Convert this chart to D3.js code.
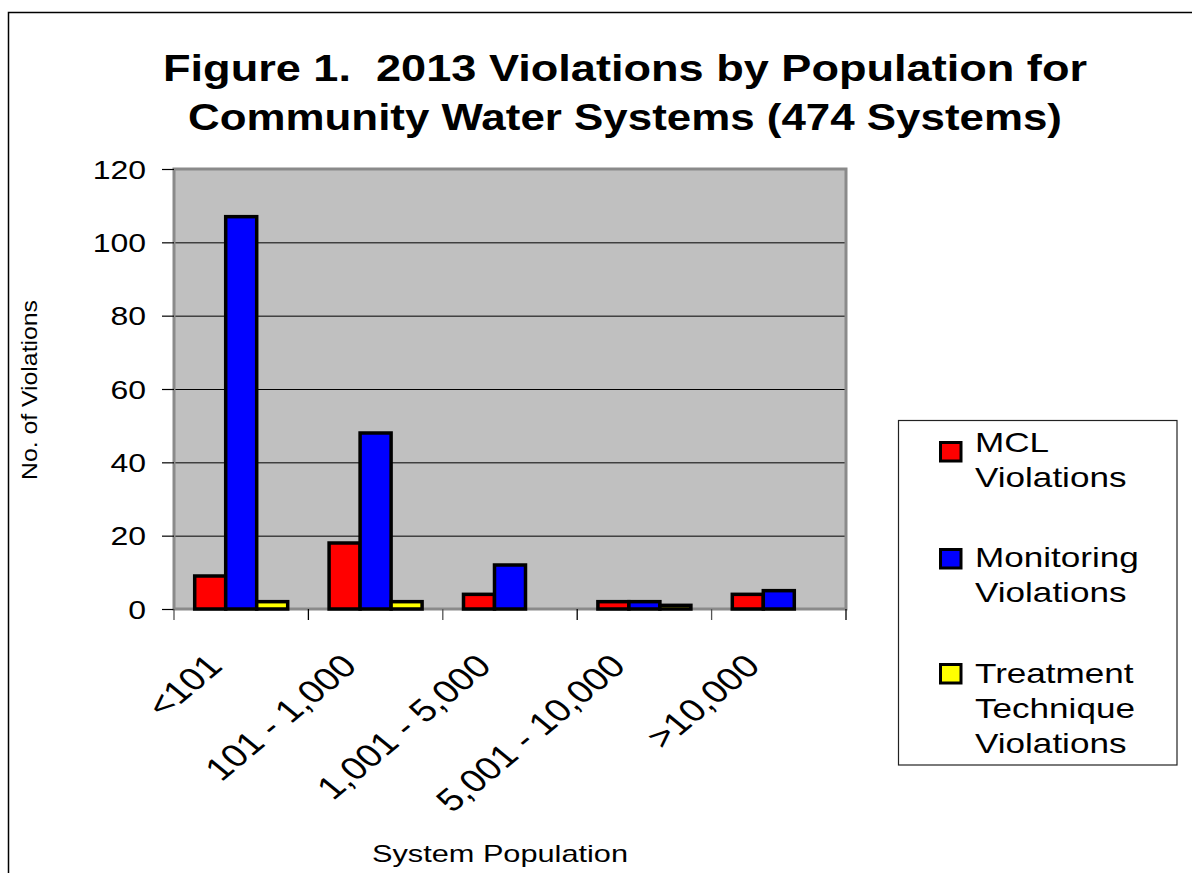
<!DOCTYPE html>
<html>
<head>
<meta charset="utf-8">
<script src="https://cdn.jsdelivr.net/npm/d3@7"></script>
<style>
html,body{margin:0;padding:0;background:#fff;}
svg{display:block;}
text{font-family:"Liberation Sans", Arial, sans-serif;fill:#000;white-space:pre;}
</style>
</head>
<body>
<svg id="chart" width="1192" height="873"></svg>
<script>
const categories = ["<101", "101 - 1,000", "1,001 - 5,000", "5,001 - 10,000", ">10,000"];
const seriesNames = ["MCL Violations", "Monitoring Violations", "Treatment Technique Violations"];
const legendLines = [["MCL", "Violations"], ["Monitoring", "Violations"], ["Treatment", "Technique", "Violations"]];
const mclValues = [9, 18, 4, 2, 4];
const monitoringValues = [107, 48, 12, 2, 5];
const treatmentValues = [2, 2, 0, 1, 0];
const yTickValues = [0, 20, 40, 60, 80, 100, 120];
const seriesColors = ["#ff0000", "#0000ff", "#ffff00"];
const titleLines = ["Figure 1.  2013 Violations by Population for", "Community Water Systems (474 Systems)"];
const yTitle = "No. of Violations";
const xTitle = "System Population";

const series = [mclValues, monitoringValues, treatmentValues];

const svg = d3.select("#chart");

// outer frame (left + top)
svg.append("path").attr("d", "M8.5,873 V12.5 H1192").attr("fill", "none").attr("stroke", "#000").attr("stroke-width", 1.5);

const plot = {left: 174, right: 846, top: 169, bottom: 609};

const x = d3.scaleBand().domain(categories).range([plot.left, plot.right]);
const x1 = d3.scaleBand().domain(d3.range(series.length)).range([20.7, 20.7 + 93]);
const y = d3.scaleLinear().domain([0, 120]).range([plot.bottom, plot.top]);

// plot background
svg.append("rect").attr("x", plot.left).attr("y", plot.top)
  .attr("width", plot.right - plot.left).attr("height", plot.bottom - plot.top)
  .attr("fill", "#c0c0c0");

// gridlines
svg.append("g").selectAll("line").data(yTickValues.filter(v => v > 0 && v < 120)).join("line")
  .attr("x1", plot.left).attr("x2", plot.right)
  .attr("y1", d => y(d) + 0.5).attr("y2", d => y(d) + 0.5)
  .attr("stroke", "#000").attr("stroke-width", 1);

// plot frame
svg.append("rect").attr("x", plot.left).attr("y", plot.top)
  .attr("width", plot.right - plot.left).attr("height", plot.bottom - plot.top)
  .attr("fill", "none").attr("stroke", "#8a8a8a").attr("stroke-width", 3);

// bars
const sw = 3.5;
const bars = [];
categories.forEach((c, ci) => {
  series.forEach((s, si) => {
    if (s[ci] > 0) bars.push({c, si, v: s[ci]});
  });
});
svg.append("g").selectAll("rect").data(bars).join("rect")
  .attr("x", d => x(d.c) + x1(d.si))
  .attr("y", d => y(d.v))
  .attr("width", x1.bandwidth())
  .attr("height", d => y(0) - y(d.v))
  .attr("fill", d => seriesColors[d.si])
  .attr("stroke", "#000").attr("stroke-width", sw);

// y axis
const yAxis = svg.append("g").attr("transform", `translate(${plot.left},0)`)
  .call(d3.axisLeft(y).tickValues(yTickValues).tickSize(12).tickSizeOuter(0));
yAxis.select(".domain").remove();
yAxis.selectAll(".tick line").attr("stroke", "#000").attr("stroke-width", 1.2);
yAxis.selectAll(".tick text")
  .attr("x", null).attr("dy", null)
  .attr("text-anchor", "end")
  .attr("transform", "translate(-28,9) scale(1.28,1)")
  .style("font-size", "25px")
  .style("font-family", "'Liberation Sans', Arial, sans-serif");

// x axis ticks at band edges
const edges = categories.map(c => x(c)).concat([x.range()[1]]);
svg.append("g").selectAll("line").data(edges).join("line")
  .attr("x1", d => d).attr("x2", d => d)
  .attr("y1", plot.bottom).attr("y2", plot.bottom + 11)
  .attr("stroke", (d, i) => (i % 2 === 0 ? "#555" : "#000")).attr("stroke-width", 1.3);

// x labels (rotated)
svg.append("g").selectAll("text").data(categories).join("text")
  .attr("text-anchor", "end")
  .attr("transform", d => `translate(${x(d) + x.bandwidth() / 2 - 17},668) scale(1.2,1) rotate(-45)`)
  .style("font-size", "32px")
  .text(d => d);

// title
svg.append("g").selectAll("text").data(titleLines).join("text")
  .attr("x", 625).attr("y", (d, i) => 81 + i * 49)
  .attr("text-anchor", "middle")
  .attr("textLength", (d, i) => [924, 874][i])
  .attr("lengthAdjust", "spacingAndGlyphs")
  .style("font-size", "36px").style("font-weight", "bold")
  .text(d => d);

// y title
svg.append("text")
  .attr("transform", "translate(37,390) rotate(-90)")
  .attr("text-anchor", "middle")
  .attr("textLength", 180).attr("lengthAdjust", "spacingAndGlyphs")
  .style("font-size", "22px")
  .text(yTitle);

// x title
svg.append("text")
  .attr("x", 500).attr("y", 862)
  .attr("text-anchor", "middle")
  .attr("textLength", 256).attr("lengthAdjust", "spacingAndGlyphs")
  .style("font-size", "24px")
  .text(xTitle);

// legend
const legend = svg.append("g");
legend.append("rect").attr("x", 898.5).attr("y", 420.5).attr("width", 278.5).attr("height", 344.5)
  .attr("fill", "#fff").attr("stroke", "#222").attr("stroke-width", 1.2);
const swatchTops = [441, 548, 663];
const firstBaselines = [452, 567, 683];
const lineH = 35;
seriesNames.forEach((name, i) => {
  legend.append("rect").attr("x", 940.5).attr("y", swatchTops[i] + 1.5)
    .attr("width", 20.5).attr("height", 18.5)
    .attr("fill", seriesColors[i]).attr("stroke", "#000").attr("stroke-width", 3);
  legendLines[i].forEach((ln, j) => {
    legend.append("text")
      .attr("transform", `translate(975,${firstBaselines[i] + j * lineH}) scale(1.3,1)`)
      .style("font-size", "27px")
      .text(ln);
  });
});
</script>
</body>
</html>
